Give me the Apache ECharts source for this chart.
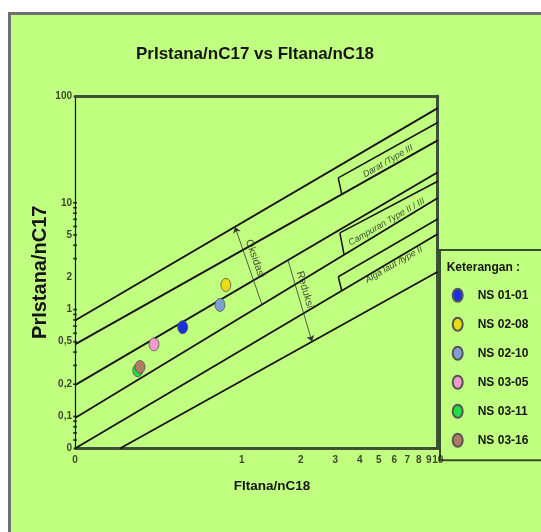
<!DOCTYPE html>
<html><head><meta charset="utf-8">
<script src="https://cdn.jsdelivr.net/npm/echarts@6/dist/echarts.min.js"></script>
<style>
html,body{margin:0;padding:0;background:#fff;width:541px;height:532px;overflow:hidden}
#frame{position:absolute;left:8px;top:12px;width:540px;height:530px;background:#c0ff80;border-left:3px solid #707070;border-top:3px solid #707070;box-sizing:border-box}
#chart{position:absolute;left:0;top:0;width:541px;height:532px}
</style></head><body>
<div id="frame"></div><div id="chart"></div>
<script>
// ---- data ----
const sampleNames = ['NS 01-01','NS 02-08','NS 02-10','NS 03-05','NS 03-11','NS 03-16'];
const phytaneC18  = [0.50, 0.83, 0.775, 0.357, 0.295, 0.303];
const pristaneC17 = [0.684, 1.70, 1.106, 0.472, 0.270, 0.290];
const sampleColors = ['#1a30e0','#e6de10','#7f9fd2','#f29ad0','#1ee046','#b27a62'];

const xMin = 0.1411, xMax = 10, yMin = 0.05, yMax = 100;
const xTickValues = [0.1411,1,2,3,4,5,6,7,8,9,10];
const xTickLabels = ['0','1','2','3','4','5','6','7','8','9','10'];
const yTickValues = [0.05,0.1,0.2,0.5,1,2,5,10,100];
const yTickLabels = ['0','0,1','0,2','0,5','1','2','5','10','100'];
const yTickMarks  = [0.06,0.07,0.08,0.09,0.1,0.2,0.3,0.4,0.5,0.6,0.7,0.8,0.9,1,3,4,5,6,7,8,9,10];

// zone boundary lines (data coordinates: Ph/nC18, Pr/nC17)
const boundaryLines = [
  [[0.1411,0.790],[10,77]],
  [[0.1411,0.472],[10,38.4]],
  [[0.1411,0.196],[10,19.3]],
  [[0.1411,0.0965],[10,11.1]],
  [[0.1411,0.05],[10,5.11]],
  [[0.239,0.05],[10,2.26]]
];
// label box edges
const labelBoxEdges = [
  [[3.11,17.1],[10,56.5]], [[3.11,17.1],[3.24,11.98]],
  [[3.17,5.22],[10,15.9]], [[3.17,5.22],[3.33,3.25]],
  [[3.11,2.03],[10,7.05]], [[3.11,2.03],[3.24,1.50]]
];
const zoneLabels = [
  [5.58,24.5,'Darat /Type III'],
  [5.49,6.61,'Campuran Type II / III'],
  [5.98,2.63,'Alga laut /type II']
];
const oxidationArrow = [[0.924,5.96],[1.269,1.113]];
const reductionArrow = [[1.722,2.905],[2.284,0.501]];
const arrowLabels = [[1.169,2.99,'Oksidasi',-71],[2.10,1.536,'Reduksi',-74]];

// ---- chart ----
const SANS = "'Liberation Sans',Arial,sans-serif";
const ELLIPSE = 'path://M0,6.5A5,6.5 0 1 1 10,6.5A5,6.5 0 1 1 0,6.5Z';
const frameColor = '#3e4f36';

const chart = echarts.init(document.getElementById('chart'), null, {renderer:'canvas'});

const sampleSeries = sampleNames.map((n,i)=>({
  type:'scatter', name:n, xAxisIndex:0, yAxisIndex:0,
  data:[[phytaneC18[i], pristaneC17[i]]],
  symbol:ELLIPSE, symbolSize:[10,13], z:10,
  itemStyle:{color:sampleColors[i], borderColor:'#555', borderWidth:0.8, opacity:1}
}));

const option = {
  animation:false,
  backgroundColor:'transparent',
  title:[
    {text:'PrIstana/nC17 vs FItana/nC18', left:255, top:46, textAlign:'center', padding:0,
     textStyle:{fontSize:17, fontWeight:'bold', fontFamily:SANS, color:'#151515'}},
    {text:'FItana/nC18', left:272, top:479, textAlign:'center', padding:0,
     textStyle:{fontSize:13.5, fontWeight:'bold', fontFamily:SANS, color:'#151515'}},
    {text:'Keterangan :', left:446.7, top:262, padding:0,
     textStyle:{fontSize:12, fontWeight:'bold', fontFamily:SANS, color:'#151515'}}
  ],
  legend:{
    data:sampleNames, orient:'vertical', left:440, top:250,
    padding:[37.8,60,12.5,11.7], itemGap:14, itemWidth:10, itemHeight:13,
    icon:ELLIPSE, borderColor:'#34502a', borderWidth:2, backgroundColor:'transparent',
    selectedMode:false,
    textStyle:{fontSize:12, fontWeight:'bold', fontFamily:SANS, color:'#151515', padding:[0,0,0,10]}
  },
  grid:{left:75, right:103.3, top:96, bottom:83.5, containLabel:false},
  xAxis:[
    {type:'log', logBase:10, min:xMin, max:xMax, position:'bottom',
     axisLine:{show:true, lineStyle:{color:frameColor, width:3}},
     axisTick:{show:false}, axisLabel:{show:false}, splitLine:{show:false}},
    {type:'log', logBase:10, min:xMin, max:xMax, position:'top',
     axisLine:{show:true, lineStyle:{color:frameColor, width:3}},
     axisTick:{show:false}, axisLabel:{show:false}, splitLine:{show:false}}
  ],
  yAxis:[
    {type:'log', logBase:10, min:yMin, max:yMax, position:'left',
     name:'PrIstana/nC17', nameLocation:'middle', nameGap:25, nameRotate:90,
     nameTextStyle:{fontSize:20, fontWeight:'bold', fontFamily:SANS, color:'#151515'},
     axisLine:{show:true, lineStyle:{color:'#111', width:1.2}},
     axisTick:{show:false}, axisLabel:{show:false}, splitLine:{show:false}},
    {type:'log', logBase:10, min:yMin, max:yMax, position:'right',
     axisLine:{show:true, lineStyle:{color:frameColor, width:3}},
     axisTick:{show:false}, axisLabel:{show:false}, splitLine:{show:false}}
  ],
  series:[
    {type:'lines', coordinateSystem:'cartesian2d', xAxisIndex:0, yAxisIndex:0, silent:true, z:3,
     data:boundaryLines.map(c=>({coords:c})), lineStyle:{color:'#141414', width:1.8, opacity:1}},
    {type:'lines', coordinateSystem:'cartesian2d', xAxisIndex:0, yAxisIndex:0, silent:true, z:3,
     data:labelBoxEdges.map(c=>({coords:c})), lineStyle:{color:'#141414', width:1.5, opacity:1}},
    {type:'lines', coordinateSystem:'cartesian2d', xAxisIndex:0, yAxisIndex:0, silent:true, z:3,
     symbol:['arrow','none'], symbolSize:6,
     data:[{coords:oxidationArrow}], lineStyle:{color:'#333', width:0.8, opacity:1}},
    {type:'lines', coordinateSystem:'cartesian2d', xAxisIndex:0, yAxisIndex:0, silent:true, z:3,
     symbol:['none','arrow'], symbolSize:6,
     data:[{coords:reductionArrow}], lineStyle:{color:'#333', width:0.8, opacity:1}},
    {type:'scatter', xAxisIndex:0, yAxisIndex:0, silent:true, symbolSize:0, clip:false, z:4,
     data:zoneLabels.map(d=>({value:[d[0],d[1]], label:{formatter:d[2]}})),
     label:{show:true, position:'inside', rotate:30, fontSize:9, fontStyle:'italic', fontFamily:SANS, color:'#151515'}},
    {type:'scatter', xAxisIndex:0, yAxisIndex:0, silent:true, symbolSize:0, clip:false, z:4,
     data:arrowLabels.map(d=>({value:[d[0],d[1]], label:{formatter:d[2], rotate:d[3]}})),
     label:{show:true, position:'inside', fontSize:10.5, fontFamily:SANS, color:'#222'}},
    {type:'scatter', xAxisIndex:0, yAxisIndex:0, silent:true, symbolSize:0, clip:false, z:4,
     data:yTickValues.map((v,i)=>({value:[xMin,v], label:{formatter:yTickLabels[i]}})),
     label:{show:true, position:'left', distance:3, fontSize:10, fontWeight:'bold', fontFamily:SANS, color:'#151515'}},
    {type:'scatter', xAxisIndex:0, yAxisIndex:0, silent:true, symbolSize:0, clip:false, z:4,
     data:xTickValues.map((v,i)=>({value:[v,yMin], label:{formatter:xTickLabels[i]}})),
     label:{show:true, position:'bottom', distance:7, fontSize:10, fontWeight:'bold', fontFamily:SANS, color:'#151515'}},
    {type:'scatter', xAxisIndex:0, yAxisIndex:0, silent:true, clip:false, z:4,
     symbol:'rect', symbolSize:[4,1.6],
     data:yTickMarks.map(v=>[xMin,v]), itemStyle:{color:'#111'}},
    ...sampleSeries
  ]
};
chart.setOption(option);
</script>
</body></html>
